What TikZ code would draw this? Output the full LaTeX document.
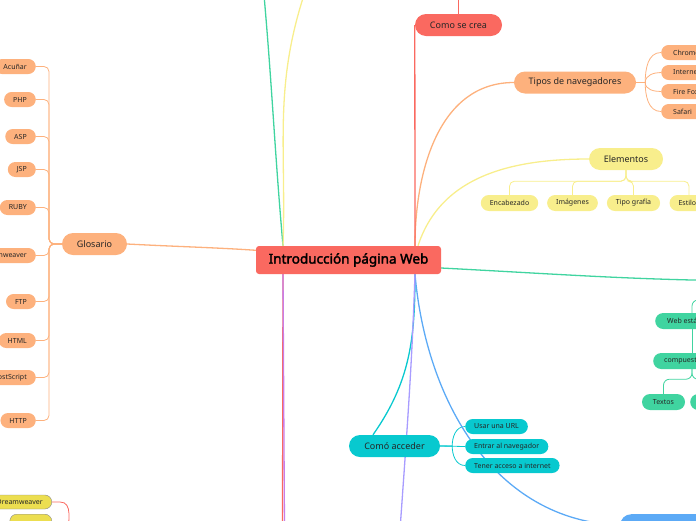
\documentclass[tikz,border=0pt]{standalone}
\usepackage{fontspec}
\setmainfont{Noto Sans}
\newfontfamily\titlefont{Noto Sans}[FakeBold=2.2]
\usetikzlibrary{backgrounds}
\definecolor{mapred}{RGB}{250,105,96}
\definecolor{maporange}{RGB}{253,177,125}
\definecolor{mapyellow}{RGB}{248,238,140}
\definecolor{mapgreen}{RGB}{64,212,160}
\definecolor{mapcyan}{RGB}{8,201,207}
\definecolor{mapblue}{RGB}{92,170,246}
\definecolor{mappurple}{RGB}{200,125,232}
\definecolor{maplav}{RGB}{168,156,255}
\definecolor{dwyellow}{RGB}{236,222,80}
\begin{document}
\begin{tikzpicture}[x=1pt,y=1pt,
  topic/.style={rounded corners=11pt,minimum height=22pt,inner sep=0pt,text=black!85,font=\fontsize{9}{10}\selectfont},
  leaf/.style={rounded corners=7.5pt,minimum height=15pt,inner xsep=9pt,inner ysep=0pt,text=black!85,font=\fontsize{7}{8}\selectfont},
  branch/.style={line width=1.3pt},
  twig/.style={line width=0.8pt}]
\path[use as bounding box,clip] (0,0) rectangle (696,-520);

% central topic
\node[fill=mapred,rounded corners=3pt,minimum width=185pt,minimum height=28pt,inner sep=0pt,font=\titlefont\fontsize{13.5}{15}\selectfont] (web) at (348.5,-260) {Introducción página Web};

% glosario
\node[topic,fill=maporange,minimum width=65pt] (glos) at (94.5,-244) {Glosario};
\foreach \n/\t/\y in {acu/Acuñar/66.5,php/PHP/99.5,asp/ASP/136.5,jsp/JSP/169.5,ruby/RUBY/207.5,dream/Dreamweaver/255.5,ftp/FTP/301.5,html/HTML/340.5,post/PostScript/377.5,http/HTTP/420.5}
  \node[leaf,fill=maporange,anchor=east] (\n) at (36,-\y) {\t};

% tipos de navegadores
\node[topic,fill=maporange,minimum width=122pt] (tipos) at (575,-82.5) {Tipos de navegadores};
\foreach \n/\t/\y in {chrome/Chrome/52.5,ie/Internet Explorer/72.5,ff/Fire Fox/91.5,safari/Safari/111.5}
  \node[leaf,fill=maporange,anchor=west,inner xsep=12pt] (\n) at (661,-\y) {\t};

% elementos
\node[topic,fill=mapyellow,minimum width=74pt] (elem) at (626,-159) {Elementos};
\foreach \n/\t/\x in {enc/Encabezado/509.5,img/Imágenes/572.5,tipo/Tipo grafía/633.5,est/Estilos/689}
  \node[leaf,fill=mapyellow,minimum height=16pt,rounded corners=8pt] (\n) at (\x,-203) {\t};

% como se crea
\node[topic,fill=mapred,minimum width=87pt] (crea) at (458.5,-25) {Como se crea};
\coordinate (creaup) at (458.5,10);

% web estatica
\coordinate (gmain) at (780,-281);
\coordinate (gpar) at (730,-300);
\coordinate (gx) at (692,0);
\node[leaf,fill=mapgreen,minimum height=16pt,rounded corners=8pt,anchor=west,inner xsep=12pt] (estat) at (655,-321) {Web estática};
\node[leaf,fill=mapgreen,minimum height=16pt,rounded corners=8pt,anchor=west,inner xsep=11pt] (comp) at (653,-361) {compuesta};
\node[leaf,fill=mapgreen,minimum height=16pt,rounded corners=8pt,minimum width=43pt] (textos) at (663.5,-402) {Textos};
\node[leaf,fill=mapgreen,minimum height=16pt,rounded corners=8pt,minimum width=43pt,anchor=west] (otro) at (690,-402) {};

% como acceder
\node[topic,fill=mapcyan,minimum width=91pt] (acc) at (394.5,-446) {Comó acceder};
\node[leaf,fill=mapcyan,anchor=west] (url) at (465,-426.5) {Usar una URL};
\node[leaf,fill=mapcyan,anchor=west] (nav) at (465,-446.5) {Entrar al navegador};
\node[leaf,fill=mapcyan,anchor=west] (inet) at (465,-465.5) {Tener acceso a internet};

% lower branches
\node[fill=mapblue,rounded corners=11pt,minimum width=160pt,minimum height=22pt,anchor=north west] (blue) at (620,-514) {};
\coordinate (lavdown) at (400,-530);
\coordinate (purpdown) at (284.5,-530);
\coordinate (reddown) at (282.5,-530);
\coordinate (gup) at (264,5);
\coordinate (yup) at (304,5);

% dreamweaver (bottom left)
\node[leaf,fill=dwyellow,draw=black!45,minimum height=14pt,rounded corners=7pt,anchor=east] (dw) at (52,-502) {Dreamweaver};
\node[leaf,fill=dwyellow,draw=black!45,minimum height=14pt,rounded corners=7pt,minimum width=42pt,anchor=north east] (dw2) at (52,-514) {};
\coordinate (dwpar) at (68,-535);

\begin{scope}[on background layer]
  \foreach \n in {acu,php,asp,jsp,ruby,dream,ftp,html,post,http}
    \draw[twig,maporange,rounded corners=5pt] (glos.west) -| ([xshift=13pt]\n.east) -- (\n.east);
  \draw[branch,maporange] (glos.east) to[out=-3,in=172] (web.center);
  \draw[branch,maporange] ([xshift=66.5pt]web.north) to[out=90,in=180] (tipos.west);
  \foreach \n/\o in {chrome/90,ie/90,ff/-90,safari/-90}
    \draw[twig,maporange] (tipos.east) -- ++(9,0) to[out=\o,in=180] (\n.west);
  \draw[branch,mapyellow] ([xshift=69.5pt]web.north) to[out=72,in=180] (elem.west);
  \foreach \n in {enc,img,tipo,est}
    \draw[twig,mapyellow,rounded corners=5pt] (elem.south) -- ++(0,-11) -| (\n.north);
  \draw[branch,mapred] ([xshift=66.5pt]web.north) -- (crea.west);
  \draw[branch,mapred] (crea.north) -- (creaup);
  \draw[branch,mapgreen] ([yshift=-8pt]web.east) to[out=-3,in=180] (gmain);
  \draw[twig,mapgreen,rounded corners=6pt] (gpar) -| (estat.north -| gx);
  \draw[twig,mapgreen] (estat.south -| gx) -- (comp.north -| gx);
  \draw[twig,mapgreen,rounded corners=6pt] (comp.south -| gx) -- ++(0,-10) -| (textos.north);
  \draw[twig,mapgreen,rounded corners=6pt] (comp.south -| gx) -- ++(0,-10) -| (otro.north);
  \draw[branch,mapgreen] ([xshift=-65.5pt]web.north) to[out=95,in=-85] (gup);
  \draw[branch,mapyellow] ([xshift=-65.5pt]web.north) to[out=88,in=-108] (yup);
  \draw[branch,mapcyan] ([xshift=66.5pt]web.south) to[out=-90,in=55] ([xshift=-21.5pt]acc.north);
  \draw[twig,mapcyan] (acc.east) -- ++(12,0) to[out=90,in=180] (url.west);
  \draw[twig,mapcyan] (acc.east) -- (nav.west);
  \draw[twig,mapcyan] (acc.east) -- ++(12,0) to[out=-90,in=180] (inet.west);
  \draw[branch,mapblue] ([xshift=66.5pt]web.south) to[out=-85,in=178] (blue.west);
  \draw[branch,maplav] ([xshift=66.5pt]web.south) to[out=-92,in=86] (lavdown);
  \draw[branch,mapred] ([xshift=-65.5pt]web.south) -- (reddown);
  \draw[branch,mappurple] ([xshift=-65.5pt]web.south) -- (purpdown);
  \draw[twig,mapred] (dw.east) -- ++(8,0) to[out=0,in=90] (dwpar);
\end{scope}
\end{tikzpicture}
\end{document}
